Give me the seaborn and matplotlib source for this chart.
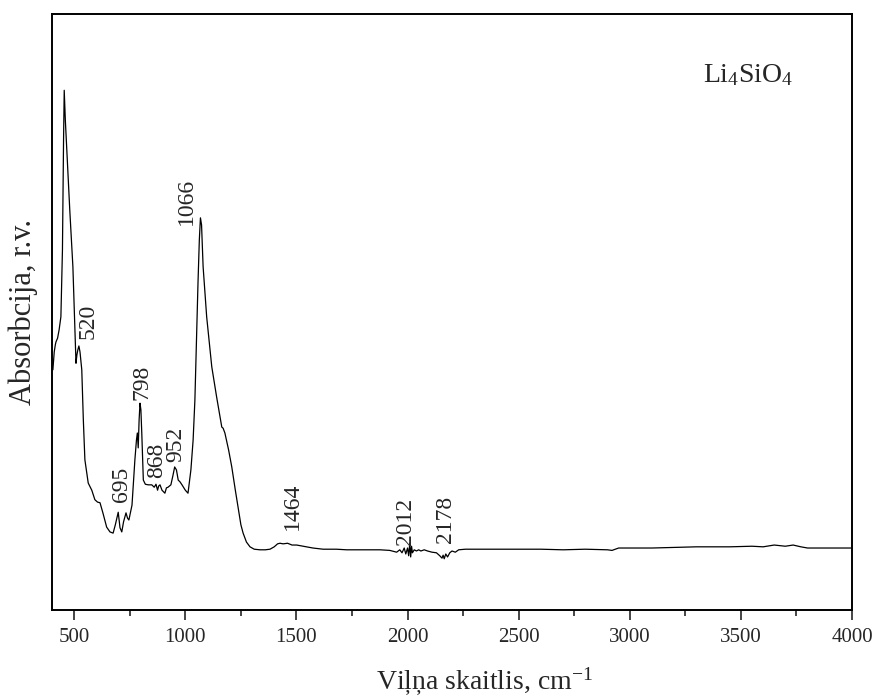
import matplotlib
matplotlib.use("Agg")
import matplotlib.pyplot as plt
import seaborn as sns
import pandas as pd
from matplotlib.ticker import MultipleLocator

# ---- data, split into spectral regions ----
wn_a = [404, 410, 415, 418, 425, 432, 440, 447, 452, 455, 460, 470, 480, 494, 503,
        508, 512, 516, 521, 526, 534, 541, 548]
ab_a = [0.403, 0.433, 0.445, 0.450, 0.456, 0.470, 0.492, 0.604, 0.789, 0.872, 0.822,
        0.747, 0.671, 0.576, 0.470, 0.414, 0.428, 0.436, 0.443, 0.433, 0.403, 0.319,
        0.252]

wn_b = [563, 579, 593, 605, 616, 629, 646, 661, 675, 685, 698, 706, 714, 722, 733,
        740, 746, 760, 773, 780, 784, 788, 792, 796, 800, 804, 811]
ab_b = [0.213, 0.201, 0.185, 0.181, 0.180, 0.163, 0.139, 0.131, 0.129, 0.143, 0.164,
        0.138, 0.131, 0.148, 0.163, 0.154, 0.151, 0.176, 0.252, 0.285, 0.297, 0.272,
        0.319, 0.347, 0.336, 0.297, 0.218]

wn_c = [820, 833, 849, 860, 868, 875, 880, 886, 895, 908, 915, 922, 935, 945, 952,
        960, 968, 976, 985, 1000, 1012]
ab_c = [0.211, 0.210, 0.210, 0.206, 0.211, 0.201, 0.208, 0.210, 0.201, 0.196, 0.205,
        0.206, 0.210, 0.227, 0.240, 0.235, 0.218, 0.215, 0.210, 0.201, 0.196]

wn_d = [1025, 1035, 1043, 1050, 1057, 1063, 1068, 1073, 1080, 1096, 1119, 1141, 1155,
        1164, 1170, 1178, 1195, 1209, 1225, 1237, 1250, 1260, 1275, 1291, 1310, 1336]
ab_d = [0.235, 0.285, 0.352, 0.453, 0.549, 0.621, 0.658, 0.646, 0.576, 0.492, 0.408,
        0.357, 0.327, 0.307, 0.305, 0.297, 0.268, 0.240, 0.201, 0.173, 0.143, 0.129,
        0.114, 0.106, 0.102, 0.101]

wn_e = [1360, 1381, 1400, 1415, 1426, 1440, 1460, 1480, 1501, 1530, 1574, 1620, 1680,
        1726, 1800, 1876, 1920, 1951]
ab_e = [0.101, 0.102, 0.106, 0.111, 0.112, 0.111, 0.112, 0.109, 0.109, 0.107, 0.104,
        0.102, 0.102, 0.101, 0.101, 0.101, 0.100, 0.097]

wn_f = [1965, 1975, 1985, 1992, 2000, 2005, 2010, 2014, 2018, 2022, 2030, 2040, 2050,
        2060, 2075, 2090, 2110, 2130, 2145, 2155, 2160, 2165, 2172, 2180, 2190, 2200,
        2215, 2230, 2260, 2300]
ab_f = [0.101, 0.096, 0.104, 0.094, 0.104, 0.091, 0.112, 0.089, 0.107, 0.096, 0.101,
        0.099, 0.101, 0.099, 0.101, 0.099, 0.097, 0.096, 0.091, 0.087, 0.092, 0.086,
        0.094, 0.089, 0.096, 0.099, 0.097, 0.101, 0.102, 0.102]

wn_g = [2400, 2500, 2600, 2700, 2800, 2900, 2920, 2950, 3100, 3300, 3450, 3550, 3600,
        3650, 3700, 3735, 3770, 3800, 3900, 4000]
ab_g = [0.102, 0.102, 0.102, 0.101, 0.102, 0.101, 0.100, 0.104, 0.104, 0.106, 0.106,
        0.107, 0.106, 0.109, 0.107, 0.109, 0.106, 0.104, 0.104, 0.104]

peak_labels = ["520", "695", "798", "868", "952", "1066", "1464", "2012", "2178"]
label_x = [564, 713, 807, 870, 958, 1007, 1480, 1993, 2169]
label_y = [0.455, 0.181, 0.352, 0.221, 0.248, 0.646, 0.134, 0.109, 0.112]

xticks = [500, 1000, 1500, 2000, 2500, 3000, 3500, 4000]

wavenumber = wn_a + wn_b + wn_c + wn_d + wn_e + wn_f + wn_g
absorbance = ab_a + ab_b + ab_c + ab_d + ab_e + ab_f + ab_g

# ---- style ----
sns.set_style("ticks")
plt.rcParams["font.family"] = ["Liberation Serif", "DejaVu Serif"]
plt.rcParams["mathtext.fontset"] = "custom"
plt.rcParams["mathtext.rm"] = "Liberation Serif"
plt.rcParams["mathtext.it"] = "Liberation Serif:italic"

fig = plt.figure(figsize=(8.76, 6.98), dpi=100)
ax = fig.add_axes([52 / 876, 1 - 610 / 698, 800 / 876, 596 / 698])

df = pd.DataFrame({"wn": wavenumber, "A": absorbance})
sns.lineplot(data=df, x="wn", y="A", ax=ax, color="black", linewidth=0.9,
             estimator=None, sort=False)

ax.set_xlim(400, 4000)
ax.set_ylim(0, 1)
ax.set_xticks(xticks)
ax.set_xticklabels([str(t) for t in xticks])
ax.xaxis.set_minor_locator(MultipleLocator(250))
ax.tick_params(axis="x", which="major", direction="out", length=7, width=1.2,
               labelsize=15, pad=6, top=False)
ax.tick_params(axis="x", which="minor", direction="out", length=4, width=1.2, top=False)
ax.set_yticks([])
for s in ax.spines.values():
    s.set_visible(True)
    s.set_linewidth(1.4)
    s.set_color("black")

ax.set_xlabel("Viļņa skaitlis, cm$^{-1}$", fontsize=20)
ax.xaxis.set_label_coords(0.54, -0.093)
ax.set_ylabel("Absorbcija, r.v.", fontsize=22)
ax.yaxis.set_label_coords(-0.018, 0.5)

for lab, x, y in zip(peak_labels, label_x, label_y):
    ax.text(x, y, lab, rotation=90, ha="center", va="bottom", fontsize=17)

ax.text(0.87, 0.898, "Li$_4$SiO$_4$", transform=ax.transAxes, ha="center",
        va="center", fontsize=20)

fig.savefig("out.png", dpi=100)
